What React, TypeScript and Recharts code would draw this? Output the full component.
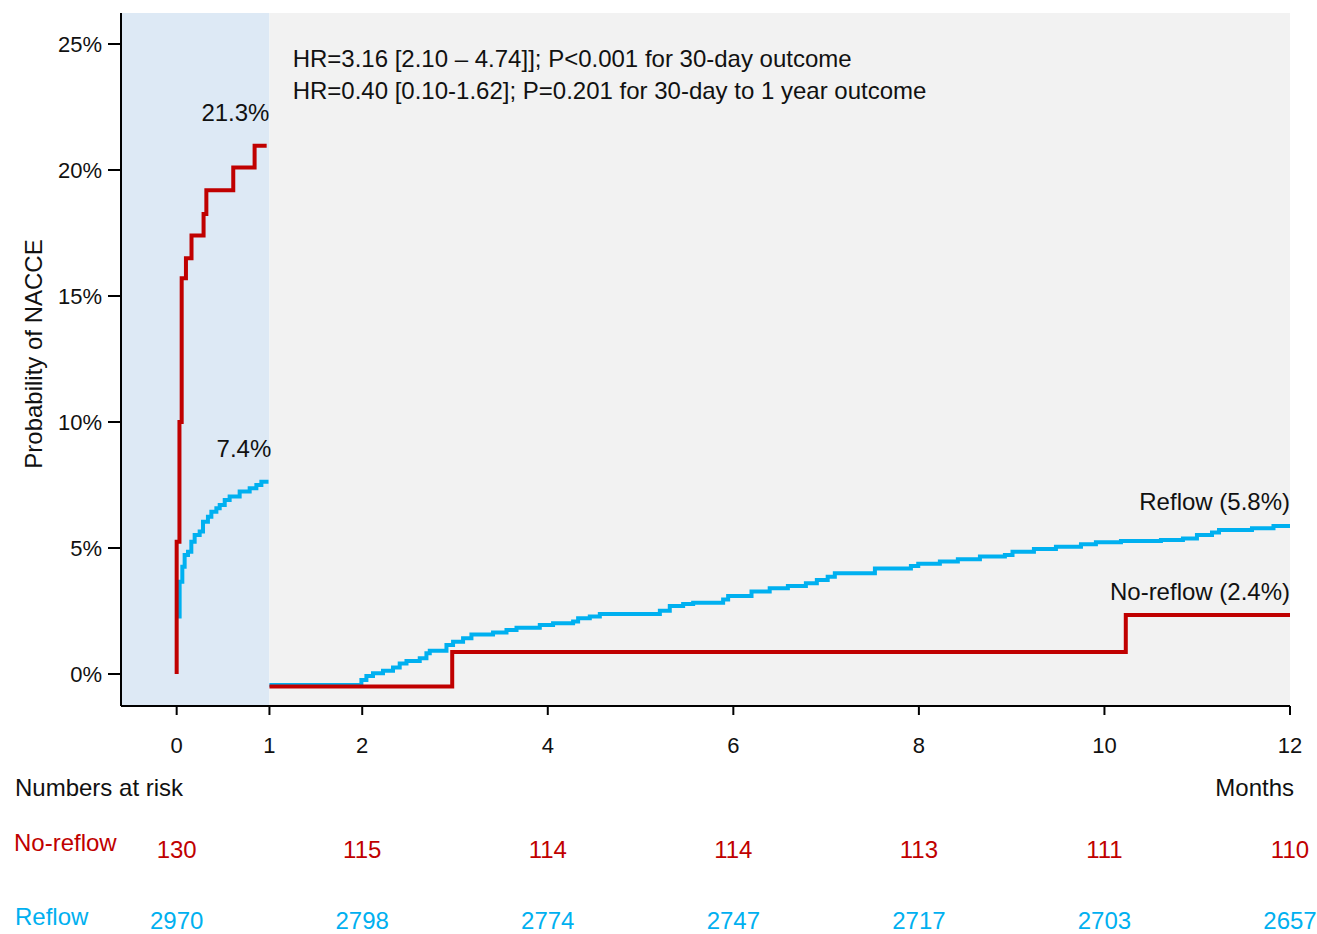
import React from 'react';
import { LineChart, Line, XAxis, YAxis, ReferenceArea, ReferenceDot } from 'recharts';

// cumulative incidence (%) by month
const noReflowEarlyT = [0, 0, 0.03, 0.054, 0.1, 0.16, 0.29, 0.32, 0.61, 0.84, 0.97];
const noReflowEarlyP = [0, 5.25, 10.0, 15.7, 16.5, 17.4, 18.25, 19.2, 20.1, 20.96, 20.96];

const reflowEarlyT = [0.032, 0.032, 0.061, 0.086, 0.122, 0.158, 0.194, 0.248, 0.284, 0.337, 0.374, 0.428, 0.464,
  0.518, 0.571, 0.679, 0.787, 0.859, 0.913, 0.99];
const reflowEarlyP = [2.2, 3.66, 4.26, 4.72, 4.85, 5.25, 5.52, 5.65, 6.04, 6.24, 6.44, 6.58, 6.71,
  6.9, 7.04, 7.24, 7.37, 7.5, 7.63, 7.63];

// landmark analysis from 30 days
const noReflowLateT = [1, 2.97, 10.23, 12];
const noReflowLateP = [-0.5, 0.87, 2.34, 2.34];

const reflowLateT = [1, 1.991, 2.045, 2.116, 2.224, 2.332, 2.404, 2.477, 2.62, 2.692, 2.728, 2.908, 2.979, 3.087,
  3.177, 3.41, 3.555, 3.663, 3.914, 4.057, 4.273, 4.327, 4.453, 4.561, 5.208, 5.315, 5.459, 5.567, 5.89, 5.944,
  6.196, 6.392, 6.588, 6.782, 6.9, 7.017, 7.094, 7.526, 7.914, 7.993, 8.226, 8.42, 8.658, 8.927, 9.009, 9.24,
  9.477, 9.747, 9.908, 10.178, 10.609, 10.846, 10.997, 11.159, 11.235, 11.59, 11.822, 12];
const reflowLateP = [-0.44, -0.24, -0.08, 0.03, 0.13, 0.26, 0.42, 0.52, 0.62, 0.82, 0.92, 1.15, 1.28, 1.42,
  1.57, 1.65, 1.75, 1.84, 1.94, 2.01, 2.08, 2.21, 2.28, 2.38, 2.51, 2.7, 2.78, 2.83, 2.96, 3.1,
  3.27, 3.4, 3.49, 3.6, 3.73, 3.86, 4.0, 4.19, 4.29, 4.37, 4.46, 4.55, 4.66, 4.72, 4.85, 4.96,
  5.05, 5.15, 5.23, 5.28, 5.32, 5.38, 5.52, 5.61, 5.71, 5.78, 5.87, 5.95];

const monthTicks = [0, 1, 2, 4, 6, 8, 10, 12];
const pctTicks = [0, 5, 10, 15, 20, 25];

const riskMonths = [0, 2, 4, 6, 8, 10, 12];
const riskNoReflow = [130, 115, 114, 114, 113, 111, 110];
const riskReflow = [2970, 2798, 2774, 2747, 2717, 2703, 2657];

const RED = '#c00000';
const BLUE = '#00b0f0';
const FONT = '"Liberation Sans", Arial, sans-serif';

const toRows = (ts: number[], ps: number[]) => ts.map((t, i) => ({ t, p: ps[i] }));

const MonthTick = (props: any) => {
  const { x, y, payload } = props;
  const i = riskMonths.indexOf(payload.value);
  return (
    <g fontFamily={FONT} textAnchor="middle">
      <text x={x} y={y + 36} fill="#111" fontSize={22}>{payload.value}</text>
      {i >= 0 && <text x={x} y={y + 141} fill={RED} fontSize={24}>{riskNoReflow[i]}</text>}
      {i >= 0 && <text x={x} y={y + 212} fill={BLUE} fontSize={24}>{riskReflow[i]}</text>}
    </g>
  );
};

const note = (text: string, anchor: string) => (props: any) => (
  <text x={props.cx} y={props.cy} textAnchor={anchor} fontFamily={FONT} fontSize={24} fill="#111">{text}</text>
);

const label: React.CSSProperties = { position: 'absolute', fontFamily: FONT, fontSize: 24, lineHeight: '28px', whiteSpace: 'nowrap' };

export default function App() {
  return (
    <div style={{ position: 'absolute', left: 0, top: 0, width: 1317, height: 934, background: '#fff' }}>
      <LineChart width={1317} height={934} margin={{ top: 13, right: 27, bottom: 198, left: 0 }}>
        <XAxis
          type="number"
          dataKey="t"
          domain={[-0.6, 12]}
          ticks={monthTicks}
          allowDataOverflow
          height={30}
          tickSize={9}
          axisLine={{ stroke: '#000', strokeWidth: 2 }}
          tickLine={{ stroke: '#000', strokeWidth: 2 }}
          tick={<MonthTick />}
        />
        <YAxis
          type="number"
          domain={[-1.27, 26.23]}
          ticks={pctTicks}
          allowDataOverflow
          width={121}
          tickSize={13}
          tickMargin={6}
          tickFormatter={(v: number) => `${v}%`}
          axisLine={{ stroke: '#000', strokeWidth: 2 }}
          tickLine={{ stroke: '#000', strokeWidth: 2 }}
          tick={{ fill: '#111', fontSize: 22, fontFamily: FONT }}
          label={{
            content: () => (
              <text x={42} y={354} transform="rotate(-90 42 354)" textAnchor="middle" fontFamily={FONT} fontSize={24} fill="#111">
                Probability of NACCE
              </text>
            ),
          }}
        />
        <ReferenceArea x1={-0.6} x2={1} y1={-1.27} y2={26.23} fill="#dde9f5" fillOpacity={1} stroke="none" />
        <ReferenceArea x1={1} x2={12} y1={-1.27} y2={26.23} fill="#f2f2f2" fillOpacity={1} stroke="none" />

        <Line data={toRows(reflowEarlyT, reflowEarlyP)} dataKey="p" type="stepAfter" stroke={BLUE} strokeWidth={4} dot={false} isAnimationActive={false} />
        <Line data={toRows(reflowLateT, reflowLateP)} dataKey="p" type="stepAfter" stroke={BLUE} strokeWidth={4} dot={false} isAnimationActive={false} />
        <Line data={toRows(noReflowEarlyT, noReflowEarlyP)} dataKey="p" type="stepAfter" stroke={RED} strokeWidth={4} dot={false} isAnimationActive={false} />
        <Line data={toRows(noReflowLateT, noReflowLateP)} dataKey="p" type="stepAfter" stroke={RED} strokeWidth={4} dot={false} isAnimationActive={false} />

        <ReferenceDot x={1.0} y={21.96} r={0} shape={note('21.3%', 'end')} />
        <ReferenceDot x={1.02} y={8.6} r={0} shape={note('7.4%', 'end')} />
        <ReferenceDot x={12} y={6.5} r={0} shape={note('Reflow (5.8%)', 'end')} />
        <ReferenceDot x={12} y={2.93} r={0} shape={note('No-reflow (2.4%)', 'end')} />
        <ReferenceDot x={1.25} y={24.1} r={0} shape={note('HR=3.16 [2.10 – 4.74]]; P<0.001 for 30-day outcome', 'start')} />
        <ReferenceDot x={1.25} y={22.8} r={0} shape={note('HR=0.40 [0.10-1.62]; P=0.201 for 30-day to 1 year outcome', 'start')} />
      </LineChart>
      <div style={{ ...label, left: 15, top: 774, color: '#111' }}>Numbers at risk</div>
      <div style={{ ...label, right: 23, top: 774, color: '#111' }}>Months</div>
      <div style={{ ...label, left: 14, top: 829, color: RED }}>No-reflow</div>
      <div style={{ ...label, left: 15, top: 903, color: BLUE }}>Reflow</div>
    </div>
  );
}
